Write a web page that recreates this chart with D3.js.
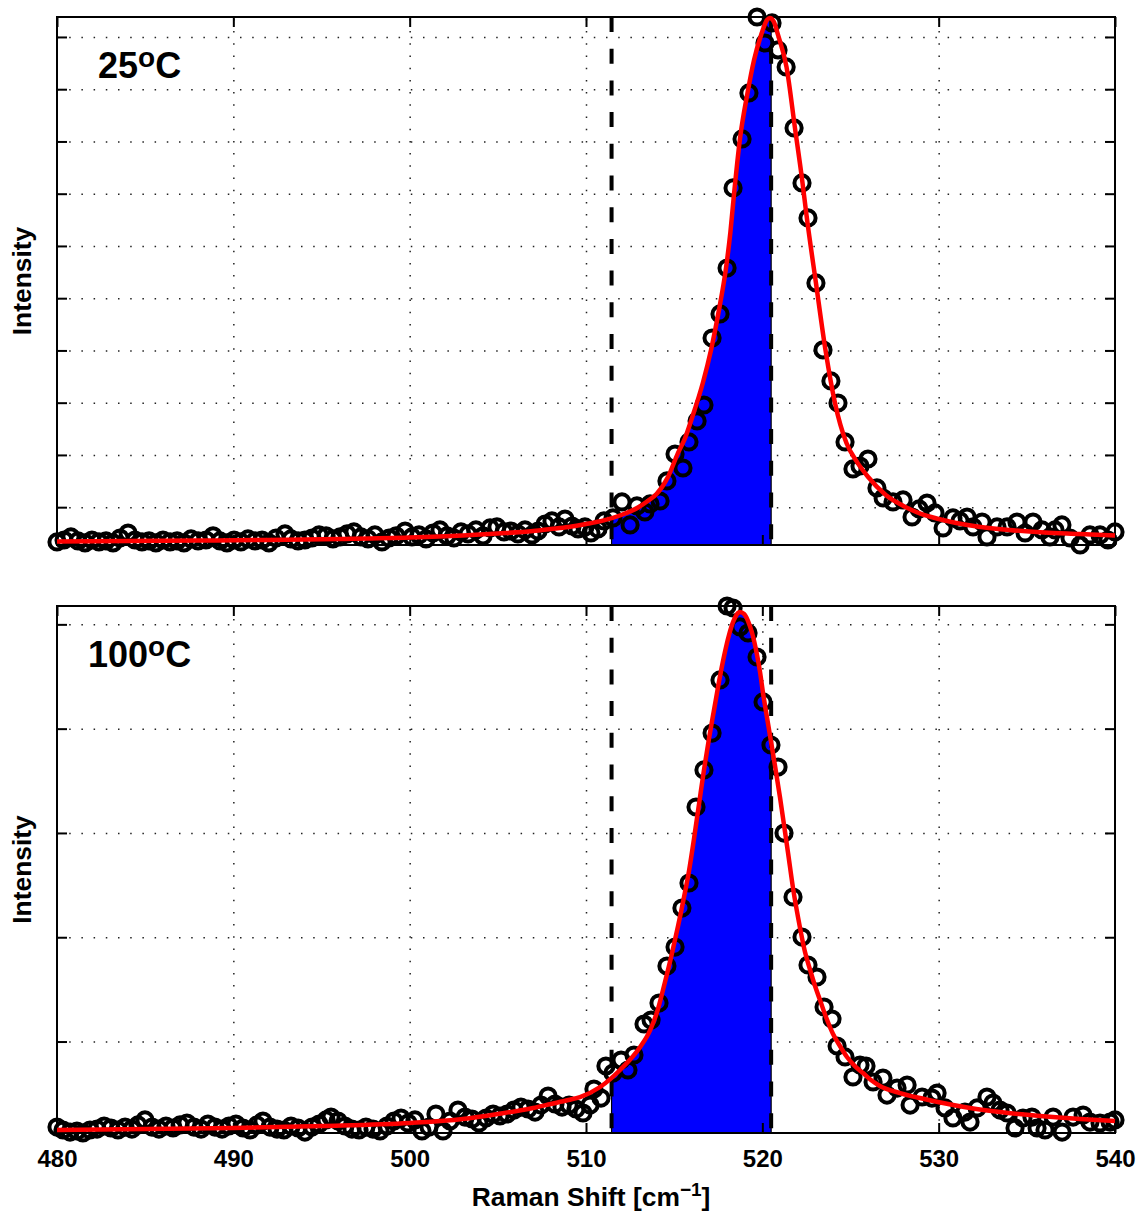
<!DOCTYPE html>
<html>
<head>
<meta charset="utf-8">
<script src="https://cdn.jsdelivr.net/npm/d3@7"></script>
<style>
  body { margin: 0; background: #fff; }
  text { font-family: "Liberation Sans", Arial, Helvetica, sans-serif; font-weight: bold; fill: #000; }
  .tick text { font-size: 24px; }
</style>
</head>
<body>
<div id="chart"></div>
<script>
// axis ticks
var xTicks = [480, 490, 500, 510, 520, 530, 540];
var yTicksTop = [1000, 1500, 2000, 2500, 3000, 3500, 4000, 4500, 5000, 5500];
var yTicksBottom = [2000, 3000, 4000, 5000, 6000];

// integration window (dashed lines)
var windowLow = 511.45, windowHigh = 520.5;

// 25 C : measured spectrum
var shiftTop = [480.00, 480.40, 480.79, 481.19, 481.59, 481.98, 482.38, 482.78, 483.18, 483.57,
  484.03, 484.42, 484.82, 485.22, 485.61, 486.01, 486.41, 486.81, 487.20, 487.60,
  488.00, 488.45, 488.85, 489.24, 489.64, 490.04, 490.43, 490.83, 491.23, 491.63,
  492.02, 492.42, 492.93, 493.27, 493.67, 494.06, 494.46, 494.86, 495.26, 495.65,
  496.05, 496.45, 496.84, 497.24, 497.64, 498.03, 498.43, 498.83, 499.23, 499.74,
  500.13, 500.53, 500.93, 501.32, 501.72, 502.12, 502.51, 502.91, 503.31, 503.76,
  504.16, 504.56, 504.95, 505.35, 505.75, 506.14, 506.54, 506.94, 507.28, 507.68,
  508.07, 508.47, 508.81, 509.21, 509.55, 509.94, 510.28, 510.68, 511.02, 511.53,
  512.04, 512.50, 512.89, 513.34, 513.63, 514.20, 514.59, 515.05, 515.50, 515.84,
  516.30, 516.69, 517.15, 517.60, 518.00, 518.34, 518.85, 519.24, 519.70, 520.15,
  520.55, 520.89, 521.35, 521.80, 522.25, 522.59, 523.04, 523.44, 523.89, 524.29,
  524.69, 525.14, 525.54, 525.99, 526.50, 526.85, 527.41, 527.98, 528.49, 528.89,
  529.34, 529.79, 530.25, 530.81, 531.21, 531.61, 531.95, 532.46, 532.74, 533.31,
  533.88, 534.44, 534.90, 535.35, 535.86, 536.31, 536.60, 536.99, 537.45, 538.02,
  538.58, 539.15, 539.60, 540.00];
var countsTop = [667, 686, 715, 677, 658, 686, 667, 677, 658, 705,
  753, 686, 667, 677, 658, 686, 667, 677, 658, 696,
  677, 686, 725, 677, 658, 686, 667, 696, 677, 686,
  658, 705, 744, 696, 677, 686, 705, 734, 725, 696,
  715, 744, 763, 715, 696, 734, 667, 705, 725, 772,
  715, 734, 696, 753, 782, 725, 705, 763, 744, 782,
  725, 801, 811, 763, 772, 744, 782, 734, 772, 839,
  868, 811, 887, 820, 791, 811, 753, 791, 868, 897,
  1050, 830, 1012, 954, 1031, 1059, 1251, 1509, 1375, 1624,
  1825, 1978, 2619, 2849, 3289, 4055, 4524, 4964, 5691, 5442,
  5634, 5376, 5213, 4629, 4103, 3768, 3146, 2505, 2208, 1997,
  1624, 1366, 1394, 1461, 1184, 1088, 1050, 1069, 906, 983,
  1040, 945, 801, 897, 868, 906, 811, 858, 715, 811,
  811, 858, 753, 858, 782, 715, 782, 830, 705, 638,
  734, 734, 686, 763];

// 25 C : fitted profile
var fitShiftTop = [480, 484, 488, 492, 496, 500, 503, 505, 507, 508, 509, 510, 511, 512, 513, 513.5, 514,
  514.65, 515.22, 515.6, 516.01, 516.64, 517.09, 517.54, 517.94, 518.19, 518.39, 518.73, 519.16,
  519.53, 519.93, 520.27, 520.43, 520.66, 520.89, 521.37, 521.85, 522.28, 522.5, 523.04, 523.58,
  524.12, 524.77, 525.3, 526, 527, 528, 529, 530, 531, 532, 534, 536, 538, 540];
var fitTop = [672, 677, 681, 686, 696, 710, 729, 748, 772, 791, 811, 839, 873, 925, 1002, 1059, 1126,
  1289, 1519, 1653, 1854, 2198, 2505, 2887, 3289, 3634, 3988, 4524, 4964,
  5280, 5519, 5663, 5682, 5643, 5519, 5213, 4629, 4103, 3800, 3146, 2505,
  1997, 1614, 1450, 1289, 1117, 1012, 935, 887, 849, 820, 782, 758, 744, 729];

// 100 C : measured spectrum
var shiftBottom = [480.00, 480.34, 480.74, 481.13, 481.47, 481.87, 482.27, 482.67, 483.06, 483.46,
  483.86, 484.25, 484.59, 484.99, 485.39, 485.78, 486.18, 486.58, 486.98, 487.37,
  487.77, 488.17, 488.56, 488.96, 489.36, 489.75, 490.15, 490.55, 490.95, 491.34,
  491.68, 492.08, 492.48, 492.87, 493.27, 493.67, 494.06, 494.46, 494.86, 495.26,
  495.54, 495.94, 496.33, 496.73, 497.13, 497.52, 497.92, 498.32, 498.71, 499.11,
  499.51, 499.91, 500.30, 500.70, 501.10, 501.49, 501.89, 502.29, 502.74, 503.14,
  503.54, 503.93, 504.33, 504.73, 505.12, 505.52, 505.92, 506.31, 506.71, 507.11,
  507.45, 507.85, 508.24, 508.64, 509.04, 509.43, 509.83, 510.23, 510.45, 510.85,
  511.13, 511.53, 511.99, 512.38, 512.72, 513.29, 513.69, 514.14, 514.59, 515.05,
  515.44, 515.84, 516.24, 516.69, 517.15, 517.60, 518.00, 518.34, 518.73, 519.19,
  519.70, 520.04, 520.49, 520.89, 521.23, 521.74, 522.25, 522.59, 523.10, 523.50,
  523.95, 524.24, 524.69, 525.14, 525.54, 525.88, 526.28, 526.84, 527.07, 527.64,
  528.21, 528.38, 529.06, 529.62, 529.91, 530.36, 530.81, 531.49, 531.78, 532.18,
  532.74, 533.08, 533.48, 533.88, 534.33, 534.78, 535.29, 535.58, 536.03, 536.49,
  537.00, 537.62, 538.19, 538.58, 539.15, 539.72, 540.00];
var countsBottom = [1180, 1152, 1132, 1142, 1123, 1152, 1161, 1190, 1171, 1152,
  1180, 1161, 1200, 1248, 1180, 1161, 1190, 1171, 1200, 1219,
  1180, 1161, 1209, 1180, 1161, 1190, 1209, 1171, 1152, 1200,
  1238, 1180, 1161, 1152, 1190, 1171, 1132, 1180, 1209, 1248,
  1276, 1238, 1190, 1161, 1152, 1180, 1161, 1142, 1190, 1238,
  1267, 1219, 1248, 1142, 1180, 1305, 1142, 1238, 1343, 1276,
  1257, 1219, 1267, 1305, 1286, 1305, 1343, 1372, 1353, 1324,
  1391, 1478, 1401, 1372, 1391, 1353, 1315, 1391, 1545, 1458,
  1765, 1698, 1823, 1727, 1871, 2168, 2206, 2369, 2724, 2906,
  3280, 3520, 4249, 4604, 4958, 5467, 6176, 6157, 5975, 5917,
  5687, 5256, 4843, 4632, 3999, 3386, 3002, 2734, 2619, 2331,
  2216, 1957, 1852, 1660, 1775, 1765, 1612, 1650, 1487, 1554,
  1583, 1391, 1468, 1458, 1506, 1363, 1267, 1324, 1228, 1363,
  1468, 1410, 1343, 1315, 1171, 1267, 1276, 1171, 1152, 1276,
  1132, 1276, 1295, 1228, 1219, 1228, 1248];

// 100 C : fitted profile
var fitShiftBottom = [480, 490, 495, 500, 503, 505, 507, 508, 509, 509.66, 510.80, 511.93, 513.07,
  513.64, 514.03, 514.48, 514.88, 515.22, 515.56, 515.84, 516.13, 516.41, 516.69, 516.98, 517.26,
  517.54, 517.83, 518.11, 518.39, 518.62, 518.73, 518.96, 519.19, 519.42, 519.70, 519.87, 520.04,
  520.27, 520.44, 520.72, 521.00, 521.23, 521.46, 521.74, 522.14, 522.42, 522.71, 522.99, 523.27,
  523.61, 524.01, 524.40, 524.80, 525.25, 525.71, 526.16, 526.67, 527.81, 528.94, 529.96, 531.78,
  533.48, 535.75, 538.02, 540];
var fitBottom = [1152, 1171, 1190, 1219, 1257, 1305, 1363, 1401, 1439, 1468, 1564, 1727, 1947,
  2110, 2283, 2571, 2849, 3108, 3386, 3635, 3951, 4278, 4604, 4910, 5179,
  5448, 5697, 5898, 6042, 6109, 6119, 6100, 6032, 5917, 5706, 5543, 5341,
  5102, 4929, 4642, 4344, 4076, 3807, 3472, 3088, 2858, 2686, 2532, 2398,
  2235, 2072, 1957, 1852, 1765, 1698, 1631, 1574, 1506, 1458, 1420, 1363,
  1324, 1286, 1257, 1238];

var W = 1142, H = 1215;
var x0 = 57, x1 = 1115;

var svg = d3.select("#chart").append("svg").attr("width", W).attr("height", H);
var x = d3.scaleLinear().domain(d3.extent(shiftTop)).range([x0, x1]);

function drawPanel(p) {
    var h = p.bottom - p.top;
    var y = d3.scaleLinear().domain(d3.extent(p.counts)).range([p.bottom, p.top]);
    var g = svg.append("g");

    // dotted grid
    var grid = g.append("g");
    grid.append("g").attr("transform", "translate(0," + p.bottom + ")")
        .call(d3.axisBottom(x).tickValues(xTicks.slice(1, -1)).tickSize(-h).tickFormat(""));
    grid.append("g").attr("transform", "translate(" + x0 + ",0)")
        .call(d3.axisLeft(y).tickValues(p.yTicks).tickSize(-(x1 - x0)).tickFormat(""));
    grid.selectAll(".domain").remove();
    grid.selectAll("line").attr("stroke", "#222").attr("stroke-width", 1.5)
        .attr("stroke-dasharray", "1.5,10.7");

    // blue band under the fitted profile
    var area = d3.area()
        .x(function(d, i) { return x(p.fitShift[i]); })
        .y0(p.bottom)
        .y1(function(d) { return y(d); })
        .curve(d3.curveMonotoneX);
    g.append("clipPath").attr("id", p.id + "-under")
        .append("path").attr("d", area(p.fit));
    g.append("g").attr("clip-path", "url(#" + p.id + "-under)")
        .append("rect")
        .attr("x", x(windowLow)).attr("width", x(windowHigh) - x(windowLow))
        .attr("y", p.top).attr("height", h)
        .attr("fill", "#0000ff").attr("stroke", "#000").attr("stroke-width", 1.2);

    // box + inward ticks
    var ax = g.append("g");
    ax.append("g").attr("transform", "translate(0," + p.bottom + ")")
        .call(d3.axisBottom(x).tickValues(xTicks).tickSizeInner(-10).tickSizeOuter(0).tickPadding(17)
            .tickFormat(p.xLabels ? d3.format("d") : ""));
    ax.append("g").attr("transform", "translate(0," + p.top + ")")
        .call(d3.axisTop(x).tickValues(xTicks).tickSizeInner(-10).tickSizeOuter(0).tickFormat(""));
    ax.append("g").attr("transform", "translate(" + x0 + ",0)")
        .call(d3.axisLeft(y).tickValues(p.yTicks).tickSizeInner(-10).tickSizeOuter(0).tickFormat(""));
    ax.append("g").attr("transform", "translate(" + x1 + ",0)")
        .call(d3.axisRight(y).tickValues(p.yTicks).tickSizeInner(-10).tickSizeOuter(0).tickFormat(""));
    ax.selectAll(".domain").remove();
    ax.selectAll("g").attr("font-size", null).attr("font-family", null);
    ax.selectAll("line").attr("stroke", "#000").attr("stroke-width", 2);
    ax.selectAll("text").attr("fill", "#000");
    ax.append("rect").attr("x", x0).attr("y", p.top).attr("width", x1 - x0).attr("height", h)
        .attr("fill", "none").attr("stroke", "#000").attr("stroke-width", 2);

    // dashed window lines
    g.selectAll(".win").data([windowLow, windowHigh]).enter().append("line")
        .attr("x1", function(d) { return x(d); }).attr("x2", function(d) { return x(d); })
        .attr("y1", p.top).attr("y2", p.bottom)
        .attr("stroke", "#000").attr("stroke-width", 4).attr("stroke-dasharray", "15,16.7");

    // measured points
    g.selectAll(".pt").data(p.counts).enter().append("circle")
        .attr("cx", function(d, i) { return x(p.shift[i]); })
        .attr("cy", function(d) { return y(d); })
        .attr("r", 7.6)
        .attr("fill", "none").attr("stroke", "#000").attr("stroke-width", 4);

    // fitted profile
    var line = d3.line()
        .x(function(d, i) { return x(p.fitShift[i]); })
        .y(function(d) { return y(d); })
        .curve(d3.curveMonotoneX);
    g.append("path").attr("d", line(p.fit))
        .attr("fill", "none").attr("stroke", "#ff0000").attr("stroke-width", 4.5);

    // temperature label
    var t = g.append("text").attr("x", p.labelX).attr("y", p.labelY).attr("font-size", 36);
    t.append("tspan").text(p.temp);
    t.append("tspan").attr("font-size", 28).attr("dy", -11).text("o");
    t.append("tspan").attr("dy", 11).text("C");

    // y label
    svg.append("text")
        .attr("transform", "translate(31," + ((p.top + p.bottom) / 2) + ") rotate(-90)")
        .attr("text-anchor", "middle").attr("font-size", 26.4)
        .text("Intensity");
}

drawPanel({ id: "t25", top: 17, bottom: 545, shift: shiftTop, counts: countsTop,
    fitShift: fitShiftTop, fit: fitTop, yTicks: yTicksTop, xLabels: false,
    temp: "25", labelX: 98, labelY: 78 });
drawPanel({ id: "t100", top: 606, bottom: 1133, shift: shiftBottom, counts: countsBottom,
    fitShift: fitShiftBottom, fit: fitBottom, yTicks: yTicksBottom, xLabels: true,
    temp: "100", labelX: 88, labelY: 667 });

// x label
var xl = svg.append("text").attr("x", 591).attr("y", 1206)
    .attr("text-anchor", "middle").attr("font-size", 26.4);
xl.append("tspan").text("Raman Shift [cm");
xl.append("tspan").attr("font-size", 19).attr("dy", -10).text("\u22121");
xl.append("tspan").attr("dy", 10).text("]");
</script>
</body>
</html>
